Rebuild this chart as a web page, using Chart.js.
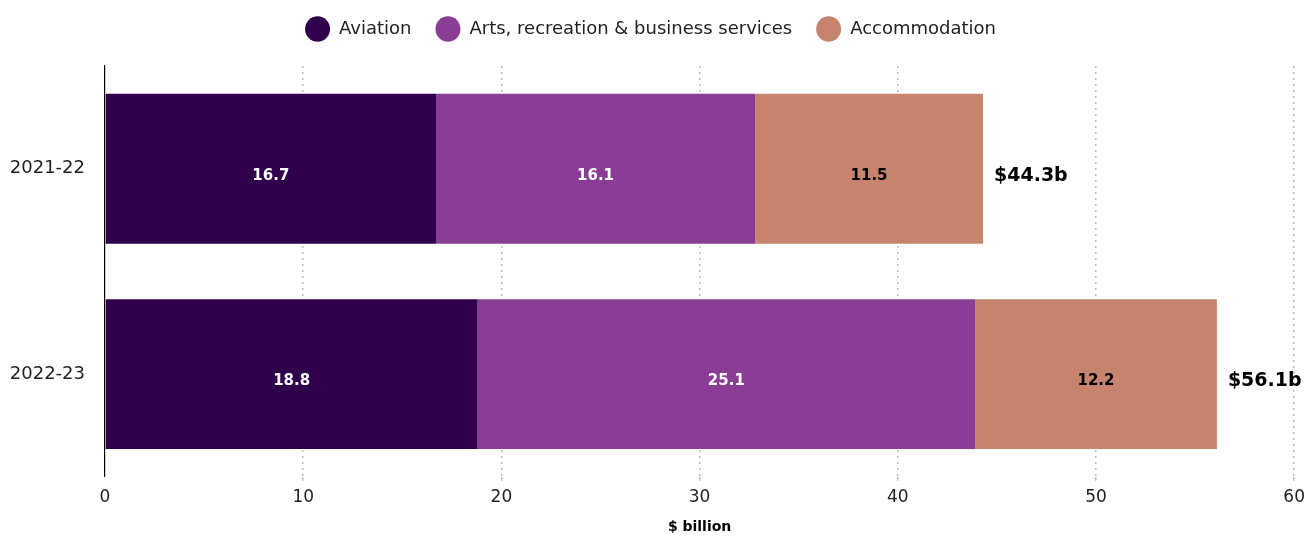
<!DOCTYPE html>
<html>
<head>
<meta charset="utf-8">
<script src="https://cdn.jsdelivr.net/npm/chart.js@4"></script>
<style>
  html, body { margin: 0; padding: 0; background: #fff; }
  #wrap { width: 1312px; height: 536px; position: relative; }
</style>
</head>
<body>
<div id="wrap"><canvas id="chart"></canvas></div>
<script>
// Chart data
const years = ['2021-22', '2022-23'];
const aviation = [16.7, 18.8];
const artsRecreation = [16.1, 25.1];
const accommodation = [11.5, 12.2];
const totals = ['$44.3b', '$56.1b'];
const xTicks = [0, 10, 20, 30, 40, 50, 60];

const FONT = '"DejaVu Sans", sans-serif';

// Draws segment values inside bars and totals at the end of each bar
const barLabels = {
    id: 'barLabels',
    afterDatasetsDraw(chart) {
        const ctx = chart.ctx;
        ctx.save();
        ctx.textBaseline = 'middle';
        chart.data.datasets.forEach((ds, di) => {
            const meta = chart.getDatasetMeta(di);
            meta.data.forEach((el, i) => {
                ctx.font = 'bold 15px ' + FONT;
                ctx.fillStyle = ds.labelColor;
                ctx.textAlign = 'center';
                ctx.fillText(ds.data[i].toFixed(1), (el.x + el.base) / 2, el.y + 7);
                if (di === chart.data.datasets.length - 1) {
                    ctx.font = 'bold 19px ' + FONT;
                    ctx.fillStyle = '#000';
                    ctx.textAlign = 'left';
                    ctx.fillText(totals[i], el.x + 11, el.y + 7);
                }
            });
        });
        ctx.restore();
    }
};

// Legend: tweak height and pull items up a little
const legendTweak = {
    id: 'legendTweak',
    beforeInit(chart) {
        const legend = chart.legend;
        const fit = legend.fit;
        legend.fit = function () {
            fit.call(legend);
            this.height += 7;
        };
        const draw = legend.draw;
        legend.draw = function () {
            const ctx = chart.ctx;
            ctx.save();
            ctx.translate(0, -11);
            draw.call(legend);
            ctx.restore();
        };
    }
};

new Chart(document.getElementById('chart'), {
    type: 'bar',
    data: {
        labels: years,
        datasets: [{
            label: 'Aviation',
            data: aviation,
            backgroundColor: '#30004C',
            labelColor: '#fff'
        }, {
            label: 'Arts, recreation & business services',
            data: artsRecreation,
            backgroundColor: '#8A3D94',
            labelColor: '#fff'
        }, {
            label: 'Accommodation',
            data: accommodation,
            backgroundColor: '#C6846E',
            labelColor: '#000'
        }]
    },
    options: {
        indexAxis: 'y',
        responsive: true,
        maintainAspectRatio: false,
        animation: false,
        layout: { padding: { left: 0, right: 11, top: 7, bottom: 0 } },
        datasets: {
            bar: { categoryPercentage: 0.73, barPercentage: 1, borderWidth: 0 }
        },
        plugins: {
            legend: {
                position: 'top',
                labels: {
                    usePointStyle: true,
                    pointStyle: 'circle',
                    pointStyleWidth: 25,
                    color: '#222',
                    padding: 24,
                    font: { family: FONT, size: 18 }
                }
            },
            tooltip: { enabled: false }
        },
        scales: {
            x: {
                stacked: true,
                min: 0,
                max: 60,
                afterBuildTicks(scale) {
                    scale.ticks = xTicks.map(v => ({ value: v }));
                },
                grid: {
                    color: ctx => ctx.tick && ctx.tick.value === 0 ? 'rgba(0,0,0,0)' : '#bbbbbb',
                    lineWidth: 1.5,
                    tickLength: 4
                },
                border: { display: false, dash: [2, 4] },
                ticks: {
                    color: '#222',
                    padding: 7,
                    font: { family: FONT, size: 17 }
                },
                title: {
                    display: true,
                    text: '$ billion',
                    color: '#000',
                    padding: { top: 4, bottom: 0 },
                    font: { family: FONT, size: 14, weight: 'bold' }
                }
            },
            y: {
                stacked: true,
                afterFit(scale) { scale.width = 105; },
                grid: { display: false },
                border: { display: true, color: '#000', width: 1.2 },
                ticks: {
                    color: '#222',
                    padding: 12,
                    font: { family: FONT, size: 18 }
                }
            }
        }
    },
    plugins: [barLabels, legendTweak]
});
</script>
</body>
</html>
